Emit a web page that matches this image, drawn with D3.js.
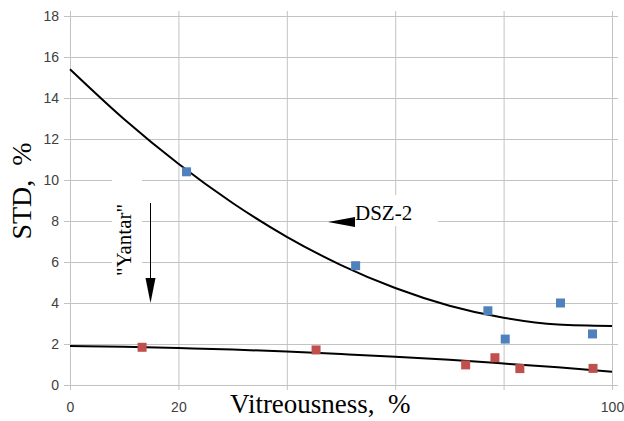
<!DOCTYPE html>
<html>
<head>
<meta charset="utf-8">
<script src="https://cdn.jsdelivr.net/npm/d3@7"></script>
<style>
    body { margin: 0; background: #fff; }
    svg { display: block; }
    .grid line { stroke: #c3c3c3; }
    .grid path { display: none; }
    .tick text { font-family: 'Liberation Sans', Arial, sans-serif; font-size: 14px; fill: #404040; }
    .titulo { font-family: 'Liberation Serif', 'Times New Roman', serif; fill: #000; white-space: pre; }
</style>
</head>
<body>
<svg id="grafico" width="624" height="421"></svg>
<script>
// valores
const xTicks = [0, 20, 40, 60, 80, 100];
const xLabels = [0, 20, 100]; // os outros ficam cobertos pelo titulo
const yTicks = [0, 2, 4, 6, 8, 10, 12, 14, 16, 18];

const dszX = [21.5, 52.7, 77.1, 80.3, 90.5, 96.4];
const dszY = [10.4, 5.82, 3.62, 2.24, 4.0, 2.49];

const yantarX = [13.3, 45.4, 73.0, 78.4, 83.0, 96.5];
const yantarY = [1.84, 1.71, 0.98, 1.33, 0.80, 0.81];

// linhas de tendencia
const trendX = [0, 10, 20, 30, 40, 50, 60, 70, 80, 90, 100];
const dszTrend = [15.40, 12.96, 10.79, 8.88, 7.23, 5.85, 4.73, 3.87, 3.28, 2.95, 2.88];
const yantarTrend = [1.90, 1.86, 1.80, 1.73, 1.63, 1.51, 1.38, 1.23, 1.05, 0.86, 0.65];

function grafico_vitreo (div) {
    const svg = d3.select(div);

    const margin = { top: 16, left: 70 };
    const width = 542;
    const height = 369;

    const chart = svg.append('g')
        .attr('transform', `translate(${margin.left}, ${margin.top})`)

    const xScale = d3.scaleLinear()
        .range([0, width])
        .domain([0, 100])

    const yScale = d3.scaleLinear()
        .range([height, 0])
        .domain([0, 18])

    /*grade vertical*/
    chart.append('g')
        .attr('class', 'grid')
        .attr('transform', `translate(0, ${height})`)
        .call(d3.axisBottom(xScale)
            .tickValues(xTicks)
            .tickSize(-height - 5)
            .tickPadding(17)
            .tickFormat((d) => xLabels.includes(d) ? d : '')
        )
        .call(g => g.selectAll('.tick line').attr('y1', 5))

    /*grade horizontal*/
    chart.append('g')
        .attr('class', 'grid')
        .call(d3.axisLeft(yScale)
            .tickValues(yTicks)
            .tickSize(-width - 6)
            .tickPadding(11)
        )
        .call(g => g.selectAll('.tick line').attr('x1', -6))

    /*caixas brancas dos rotulos*/
    chart.append('rect').attr('fill', '#fff')
        .attr('x', 42).attr('y', 159).attr('width', 30).attr('height', 110)
    chart.append('rect').attr('fill', '#fff')
        .attr('x', 285).attr('y', 179).attr('width', 83).attr('height', 31)

    /*linhas de tendencia*/
    const linha = (serie) => d3.line()
        .x((d, i) => xScale(trendX[i]))
        .y((d) => yScale(d))
        .curve(d3.curveMonotoneX)(serie)

    chart.append('path')
        .attr('d', linha(dszTrend))
        .attr('fill', 'none')
        .attr('stroke', '#000')
        .attr('stroke-width', 2)

    chart.append('path')
        .attr('d', linha(yantarTrend))
        .attr('fill', 'none')
        .attr('stroke', '#000')
        .attr('stroke-width', 2)

    /*pontos*/
    const s = 9;
    chart.selectAll('.ponto-dsz')
        .data(dszX)
        .enter()
        .append('rect')
        .attr('class', 'ponto-dsz')
        .attr('fill', '#4f81bd')
        .attr('x', (d) => xScale(d) - s / 2)
        .attr('y', (d, i) => yScale(dszY[i]) - s / 2)
        .attr('width', s)
        .attr('height', s)

    chart.selectAll('.ponto-yantar')
        .data(yantarX)
        .enter()
        .append('rect')
        .attr('class', 'ponto-yantar')
        .attr('fill', '#c0504d')
        .attr('x', (d) => xScale(d) - s / 2)
        .attr('y', (d, i) => yScale(yantarY[i]) - s / 2)
        .attr('width', s)
        .attr('height', s)

    /*setas*/
    chart.append('line')
        .attr('x1', 80.5).attr('x2', 80.5)
        .attr('y1', 187).attr('y2', 265)
        .attr('stroke', '#000').attr('stroke-width', 1)
    chart.append('path')
        .attr('d', 'M75.5,262 L85.5,262 L80.5,287 Z')
        .attr('fill', '#000')
    chart.append('path')
        .attr('d', 'M285,201 L285,211 L258,206 Z')
        .attr('fill', '#000')

    /*textos*/
    chart.append('text')
        .attr('class', 'titulo')
        .attr('transform', 'translate(61, 224) rotate(-90)')
        .attr('text-anchor', 'middle')
        .style('font-size', '21px')
        .text('"Yantar"')

    chart.append('text')
        .attr('class', 'titulo')
        .attr('x', 285).attr('y', 204)
        .style('font-size', '21px')
        .text('DSZ-2')

    chart.append('text')
        .attr('class', 'titulo')
        .attr('x', 160).attr('y', 397)
        .style('font-size', '27px')
        .text('Vitreousness,  %')

    svg.append('text')
        .attr('class', 'titulo')
        .attr('transform', 'translate(31, 191) rotate(-90)')
        .attr('text-anchor', 'middle')
        .style('font-size', '28px')
        .text('STD,  %')
}

grafico_vitreo('#grafico');
</script>
</body>
</html>
